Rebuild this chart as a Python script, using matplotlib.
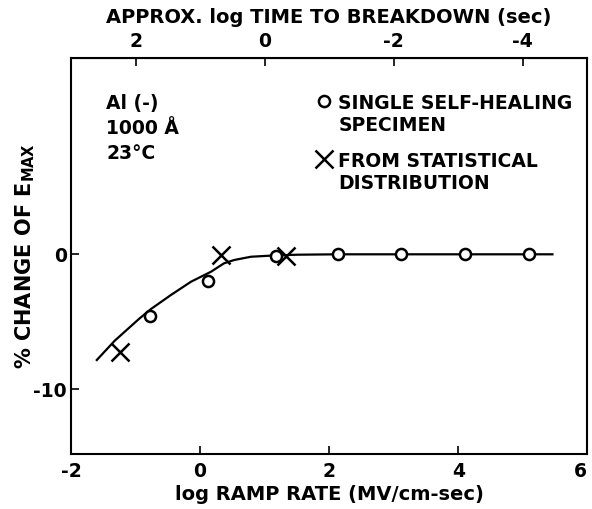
import matplotlib.pyplot as plt

# values
single_x = [-0.78, 0.12, 1.17, 2.14, 3.12, 4.10, 5.09]
single_y = [-4.6, -2.0, -0.1, 0.0, 0.0, 0.0, 0.0]
stat_x = [-1.24, 0.33, 1.33]
stat_y = [-7.2, -0.05, -0.12]
curve_x = [-1.60, -1.32, -0.94, -0.76, -0.45, -0.14, 0.17, 0.37, 0.53, 0.79, 1.09, 1.5, 2.14,
           3.12, 4.10, 5.09, 5.46]
curve_y = [-7.83, -6.39, -4.76, -4.05, -3.01, -2.03, -1.29, -0.67, -0.42, -0.18, -0.10, -0.03,
           0, 0, 0, 0, 0]
bottom_ticks = [-2, 0, 2, 4, 6]
top_ticks = [2, 0, -2, -4]
y_ticks = [0, -10]

plt.rcParams['font.family'] = 'DejaVu Sans'
plt.rcParams['font.weight'] = 'bold'
plt.rcParams['axes.labelweight'] = 'bold'
plt.rcParams['axes.unicode_minus'] = False
fs = 13.5
lfs = 14

fig = plt.figure(figsize=(5.92, 5.09), dpi=100)
ax = fig.add_axes([0.1199, 0.1081, 0.8721, 0.7774])

ax.plot(curve_x, curve_y, color='black', lw=1.6, zorder=1)
ax.plot(single_x, single_y, 'o', color='black', mfc='white', mew=1.8, ms=8,
        label='SINGLE SELF-HEALING\nSPECIMEN', zorder=3)
ax.plot(stat_x, stat_y, 'x', color='black', mew=1.8, ms=13,
        label='FROM STATISTICAL\nDISTRIBUTION', zorder=4)

ax.set_xlim(-2, 5.96)
ax.set_ylim(-14.79, 14.52)
ax.set_xticks(bottom_ticks)
ax.set_yticks(y_ticks)
ax.tick_params(direction='in', length=6, width=1.2, labelsize=fs, pad=6)
ax.tick_params(axis='y', pad=3)
for s in ax.spines.values():
    s.set_linewidth(1.5)
ax.get_xticklabels()[-1].set_horizontalalignment('right')

ax.set_xlabel('log RAMP RATE (MV/cm-sec)', fontsize=lfs, labelpad=3)
ax.set_ylabel('% CHANGE OF E$_\\mathregular{MAX}$', fontsize=15)
ax.yaxis.set_label_coords(-0.066, 0.5)

top = ax.secondary_xaxis('top', functions=(lambda x: 1 - x, lambda t: 1 - t))
top.set_xticks(top_ticks)
top.tick_params(direction='in', length=6, width=1.2, labelsize=fs, pad=5.5)
top.set_xlabel('APPROX. log TIME TO BREAKDOWN (sec)', fontsize=lfs, labelpad=6)

ax.text(0.068, 0.91, 'Al (-)\n1000 Å\n23°C', transform=ax.transAxes,
        fontsize=fs, va='top', ha='left', linespacing=1.4)

leg = ax.legend(loc='upper left', bbox_to_anchor=(0.463, 0.928), frameon=False,
                fontsize=fs, handlelength=0.7, handletextpad=0.4,
                labelspacing=0.9, borderaxespad=0)
for col in leg._legend_handle_box.get_children():
    for row in col.get_children():
        row.align = 'top'
for t in leg.get_texts():
    t.set_linespacing(1.2)

fig.savefig('out.png', dpi=100)
